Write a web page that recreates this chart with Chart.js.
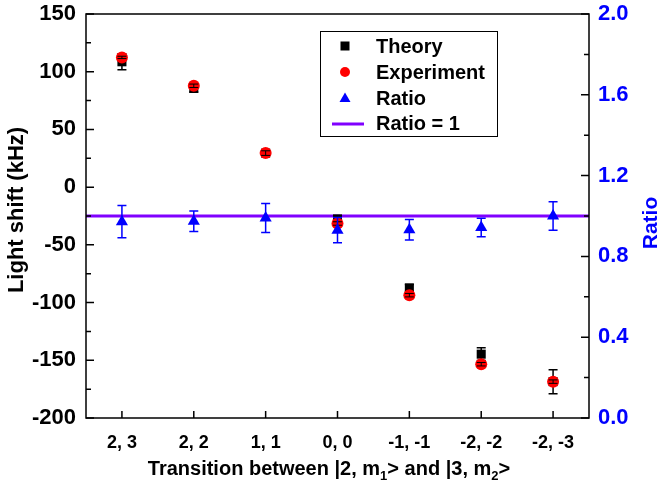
<!DOCTYPE html>
<html><head><meta charset="utf-8">
<script src="https://cdn.jsdelivr.net/npm/chart.js@4"></script>
<style>html,body{margin:0;padding:0;background:#fff}canvas{display:block}</style>
</head><body><canvas id="c" width="659" height="487"></canvas>
<script>
const categories = ['2, 3', '2, 2', '1, 1', '0, 0', '-1, -1', '-2, -2', '-2, -3'];
const theory = [108.6, 85.5, 29.5, -27.5, -87.3, -144.7, -168.5];
const theoryErr = [7, 3, 2, 2, 3, 5.5, 10.4];
const experiment = [112.4, 87.8, 29.5, -31.5, -93.6, -153.4, -168.5];
const experimentErr = [1, 1.5, 2, 1.5, 1.5, 1.5, 1.5];
const ratio = [0.972, 0.974, 0.99, 0.93, 0.932, 0.943, 1.0];
const ratioErr = [0.08, 0.051, 0.072, 0.063, 0.051, 0.046, 0.07];
const ratioOne = [1, 1];
const leftRange = [-200, 150];
const rightRange = [0, 2.0];

const FONT = 'Arial, "Liberation Sans", sans-serif';
const BLUE = '#0000FF';
const PURPLE = '#8000FF';

function pts(vals){ return vals.map((v,i)=>({x:i, y:v})); }

const errorBars = {
  id: 'errorBars',
  afterDatasetDraw(chart, args) {
    const ds = chart.data.datasets[args.index];
    if (!ds.errors) return;
    const meta = args.meta;
    const ys = chart.scales[meta.yAxisID];
    const ctx = chart.ctx;
    ctx.save();
    ctx.strokeStyle = ds.errorColor;
    ctx.lineWidth = ds.errorWidth || 1.5;
    meta.data.forEach((el, i) => {
      const v = ds.data[i].y, e = ds.errors[i];
      const x = el.x;
      const y1 = ys.getPixelForValue(v + e), y2 = ys.getPixelForValue(v - e);
      ctx.beginPath();
      ctx.moveTo(x, y1); ctx.lineTo(x, y2);
      ctx.moveTo(x - 4.5, y1); ctx.lineTo(x + 4.5, y1);
      ctx.moveTo(x - 4.5, y2); ctx.lineTo(x + 4.5, y2);
      ctx.stroke();
    });
    ctx.restore();
  }
};

const frame = {
  id: 'frame',
  afterDraw(chart) {
    const ctx = chart.ctx, a = chart.chartArea;
    const yl = chart.scales.y, yr = chart.scales.y1, xs = chart.scales.x;
    ctx.save();
    ctx.strokeStyle = '#000';
    ctx.lineWidth = 1.5;
    ctx.strokeRect(a.left, a.top, a.right - a.left, a.bottom - a.top);
    ctx.beginPath();
    for (let v = leftRange[0]; v <= leftRange[1]; v += 25) {
      const y = yl.getPixelForValue(v);
      const len = (v % 50 === 0) ? 8 : 5;
      ctx.moveTo(a.left, y); ctx.lineTo(a.left + len, y);
    }
    for (let k = 0; k <= 10; k++) {
      const v = k * 0.2;
      const y = yr.getPixelForValue(v);
      const len = (k % 2 === 0) ? 8 : 5;
      ctx.moveTo(a.right, y); ctx.lineTo(a.right - len, y);
    }
    categories.forEach((c, i) => {
      const x = xs.getPixelForValue(i);
      ctx.moveTo(x, a.bottom); ctx.lineTo(x, a.bottom - 7);
    });
    ctx.stroke();

    ctx.fillStyle = '#000';
    ctx.font = 'bold 22px ' + FONT;
    ctx.textAlign = 'center';
    ctx.textBaseline = 'middle';
    ctx.save();
    ctx.translate(17, 210);
    ctx.rotate(-Math.PI / 2);
    ctx.fillText('Light shift (kHz)', 0, 0);
    ctx.restore();

    ctx.save();
    ctx.fillStyle = BLUE;
    ctx.font = 'bold 21px ' + FONT;
    ctx.translate(651, 223);
    ctx.rotate(-Math.PI / 2);
    ctx.fillText('Ratio', 0, 0);
    ctx.restore();

    const parts = [
      ['Transition between |2, m', 20, 0],
      ['1', 13, 5],
      ['> and |3, m', 20, 0],
      ['2', 13, 5],
      ['>', 20, 0]
    ];
    let total = 0;
    parts.forEach(p => { ctx.font = 'bold ' + p[1] + 'px ' + FONT; total += ctx.measureText(p[0]).width; });
    let x = 329 - total / 2;
    ctx.textAlign = 'left';
    ctx.textBaseline = 'alphabetic';
    ctx.fillStyle = '#000';
    parts.forEach(p => {
      ctx.font = 'bold ' + p[1] + 'px ' + FONT;
      ctx.fillText(p[0], x, 475 + p[2]);
      x += ctx.measureText(p[0]).width;
    });

    const lx = 320, ly = 31, lw = 177, lh = 105;
    ctx.fillStyle = '#fff';
    ctx.fillRect(lx, ly, lw, lh);
    ctx.strokeStyle = '#000';
    ctx.lineWidth = 1;
    ctx.strokeRect(lx + 0.5, ly + 0.5, lw, lh);
    const rows = [46, 72, 98, 123];
    const mx = 345, tx = 376;
    const dsets = chart.data.datasets;
    ctx.fillStyle = '#000';
    ctx.fillRect(mx - 4.5, rows[0] - 4.5, 9, 9);
    ctx.fillStyle = '#FF0000';
    ctx.beginPath(); ctx.arc(mx, rows[1], 5, 0, Math.PI * 2); ctx.fill();
    ctx.fillStyle = BLUE;
    ctx.beginPath();
    ctx.moveTo(mx, rows[2] - 5.5); ctx.lineTo(mx + 5.5, rows[2] + 4); ctx.lineTo(mx - 5.5, rows[2] + 4);
    ctx.closePath(); ctx.fill();
    ctx.strokeStyle = PURPLE; ctx.lineWidth = 3;
    ctx.beginPath(); ctx.moveTo(332, rows[3] + 1); ctx.lineTo(364, rows[3] + 1); ctx.stroke();
    ctx.fillStyle = '#000';
    ctx.font = 'bold 20px ' + FONT;
    ctx.textBaseline = 'middle';
    ctx.textAlign = 'left';
    [dsets[1].label, dsets[2].label, dsets[3].label, dsets[0].label].forEach((t, i) => {
      ctx.fillText(t, tx, rows[i] + 1);
    });
    ctx.restore();
  }
};

function noPad(s) { s.paddingTop = 0; s.paddingBottom = 0; s.paddingLeft = 0; s.paddingRight = 0; }

new Chart(document.getElementById('c'), {
  type: 'scatter',
  data: {
    datasets: [
      { label: 'Ratio = 1', type: 'line', yAxisID: 'y1',
        data: [{x: -0.5, y: ratioOne[0]}, {x: categories.length - 0.5, y: ratioOne[1]}],
        borderColor: PURPLE, borderWidth: 3, pointRadius: 0, showLine: true, order: 4 },
      { label: 'Theory', yAxisID: 'y', data: pts(theory), errors: theoryErr, errorColor: '#000',
        pointStyle: 'rect', pointRadius: 6.4, backgroundColor: '#000', borderColor: '#000', borderWidth: 0, order: 3 },
      { label: 'Experiment', yAxisID: 'y', data: pts(experiment), errors: experimentErr, errorColor: '#000', errorWidth: 1,
        pointStyle: 'circle', pointRadius: 6, backgroundColor: '#FF0000', borderColor: '#FF0000', borderWidth: 0, order: 2 },
      { label: 'Ratio', yAxisID: 'y1', data: pts(ratio), errors: ratioErr, errorColor: BLUE,
        pointStyle: 'triangle', pointRadius: 7, backgroundColor: BLUE, borderColor: BLUE, borderWidth: 0, order: 1 }
    ]
  },
  options: {
    responsive: false,
    animation: false,
    devicePixelRatio: 1,
    layout: { padding: { top: 14, left: 0, right: 0, bottom: 0 } },
    plugins: { legend: { display: false }, tooltip: { enabled: false } },
    scales: {
      x: {
        type: 'linear', min: -0.5, max: categories.length - 0.5,
        afterBuildTicks: s => { s.ticks = categories.map((c, i) => ({ value: i })); },
        afterFit: s => { s.height = 69; noPad(s); },
        grid: { display: false, drawTicks: false },
        border: { display: false },
        ticks: { padding: 14, color: '#000', font: { family: FONT, size: 18, weight: 'bold' },
          callback: v => categories[v], maxRotation: 0, autoSkip: false }
      },
      y: {
        position: 'left', min: leftRange[0], max: leftRange[1],
        afterFit: s => { s.width = 86; noPad(s); },
        grid: { display: false, drawTicks: false },
        border: { display: false },
        ticks: { stepSize: 50, padding: 10, color: '#000', font: { family: FONT, size: 22, weight: 'bold' } }
      },
      y1: {
        position: 'right', min: rightRange[0], max: rightRange[1],
        afterFit: s => { s.width = 70; noPad(s); },
        grid: { display: false, drawTicks: false },
        border: { display: false },
        ticks: { stepSize: 0.4, padding: 9, color: BLUE, font: { family: FONT, size: 22, weight: 'bold' },
          callback: v => Number(v).toFixed(1) }
      }
    }
  },
  plugins: [errorBars, frame]
});
</script></body></html>
